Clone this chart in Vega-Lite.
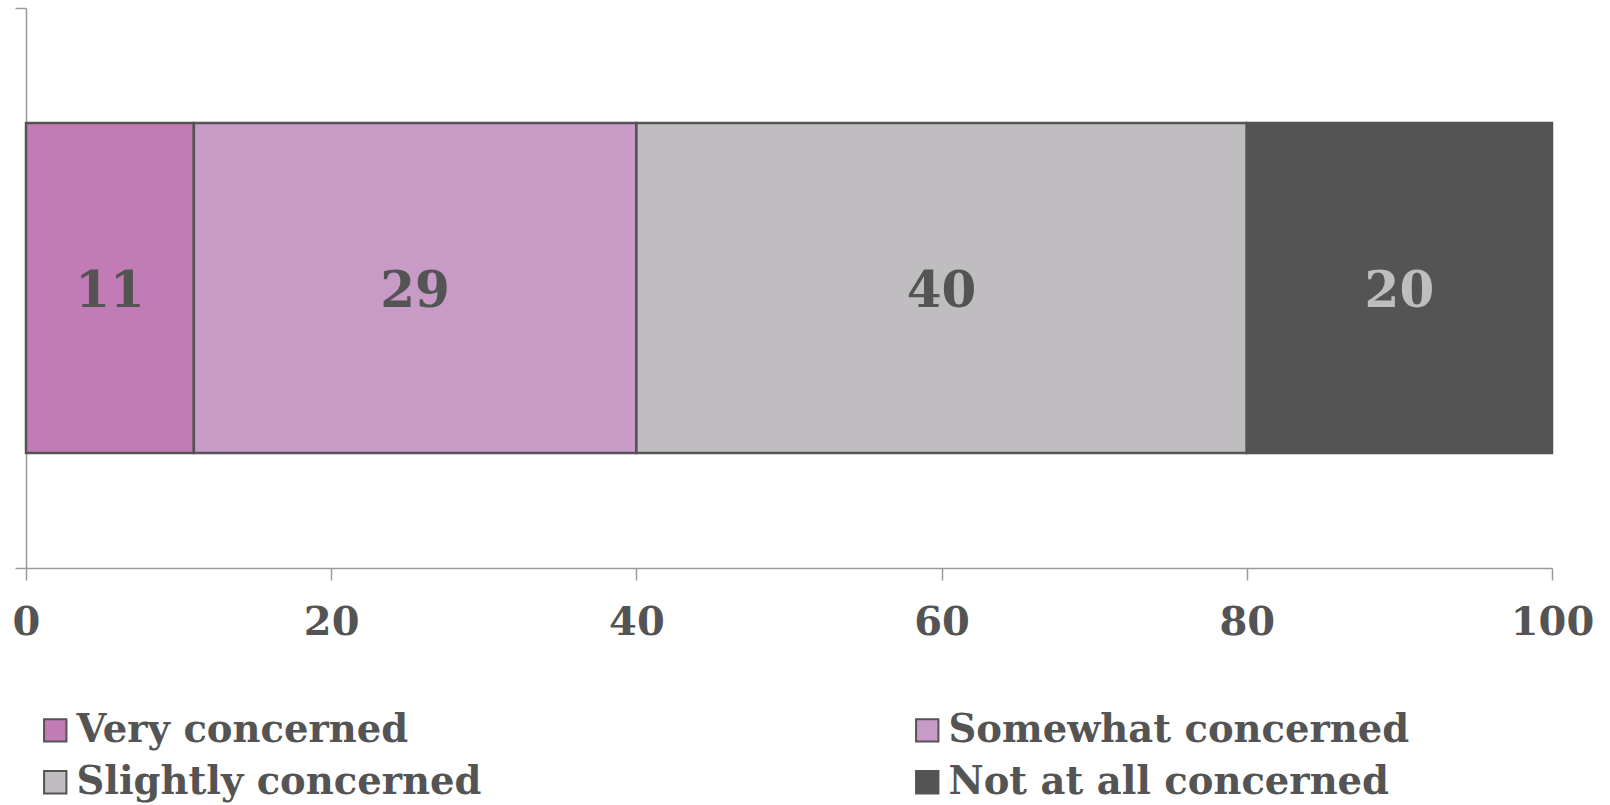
{
  "$schema": "https://vega.github.io/schema/vega-lite/v6.json",
  "width": 1526,
  "height": 560,
  "autosize": {"type": "none"},
  "padding": {"left": 26, "top": 8, "right": 58, "bottom": 237},
  "background": "#ffffff",
  "config": {
    "view": {"stroke": null},
    "font": "DejaVu Serif"
  },
  "data": {
    "values": [
      {"q": "Q", "category": "Very concerned", "rank": 1, "value": 11},
      {"q": "Q", "category": "Somewhat concerned", "rank": 2, "value": 29},
      {"q": "Q", "category": "Slightly concerned", "rank": 3, "value": 40},
      {"q": "Q", "category": "Not at all concerned", "rank": 4, "value": 20}
    ]
  },
  "encoding": {
    "y": {
      "field": "q",
      "type": "nominal",
      "scale": {"paddingInner": 0, "paddingOuter": 0},
      "axis": {
        "title": null,
        "labels": false,
        "domainColor": "#9a9a9a",
        "domainWidth": 1.5,
        "tickColor": "#9a9a9a",
        "tickWidth": 1.5,
        "tickSize": 11,
        "tickBand": "extent"
      }
    }
  },
  "layer": [
    {
      "mark": {"type": "bar", "size": 330, "stroke": "#545454", "strokeWidth": 2.5},
      "encoding": {
        "x": {
          "field": "value",
          "type": "quantitative",
          "stack": "zero",
          "scale": {"domain": [0, 100], "nice": false},
          "axis": {
            "title": null,
            "values": [0, 20, 40, 60, 80, 100],
            "grid": false,
            "domainColor": "#9a9a9a",
            "domainWidth": 1.5,
            "tickColor": "#9a9a9a",
            "tickWidth": 1.5,
            "tickSize": 12,
            "labelFont": "DejaVu Serif",
            "labelFontWeight": "bold",
            "labelFontSize": 40,
            "labelColor": "#545454",
            "labelPadding": 22,
            "labelFlush": false,
            "labelOverlap": false
          }
        },
        "order": {"field": "rank", "type": "quantitative"},
        "color": {
          "field": "category",
          "type": "nominal",
          "sort": ["Very concerned", "Somewhat concerned", "Slightly concerned", "Not at all concerned"],
          "scale": {
            "domain": ["Very concerned", "Somewhat concerned", "Slightly concerned", "Not at all concerned"],
            "range": ["#C17BB5", "#C89BC7", "#BFBDBF", "#545454"]
          },
          "legend": {
            "title": null,
            "orient": "none",
            "legendX": 10,
            "legendY": 703,
            "direction": "horizontal",
            "columns": 2,
            "columnPadding": 426,
            "rowPadding": 13,
            "symbolType": "square",
            "symbolSize": 500,
            "symbolStrokeColor": "#545454",
            "symbolStrokeWidth": 2,
            "symbolOpacity": 1,
            "labelFont": "DejaVu Serif",
            "labelFontWeight": "bold",
            "labelFontSize": 38.5,
            "labelColor": "#545454",
            "labelOffset": 2,
            "labelLimit": 800
          }
        }
      }
    },
    {
      "mark": {"type": "text", "font": "DejaVu Serif", "fontWeight": "bold", "fontSize": 50, "baseline": "middle", "align": "center", "dy": 4},
      "encoding": {
        "x": {"field": "value", "type": "quantitative", "stack": "zero", "bandPosition": 0.5},
        "order": {"field": "rank", "type": "quantitative"},
        "detail": {"field": "category"},
        "text": {"field": "value", "type": "quantitative"},
        "color": {
          "condition": {"test": "datum.category === 'Not at all concerned'", "value": "#BFBDBF"},
          "value": "#545454"
        }
      }
    }
  ]
}
